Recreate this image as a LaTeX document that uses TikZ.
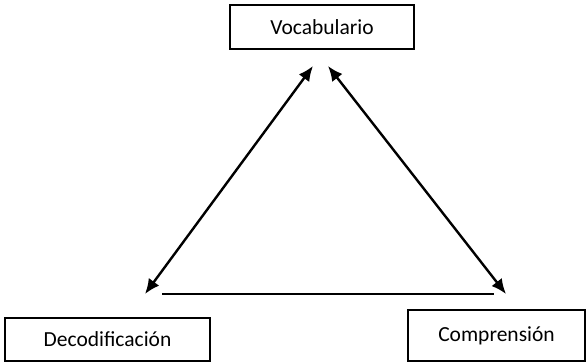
\documentclass[tikz,border=0pt]{standalone}
\usepackage{fontspec}
\setmainfont{Carlito}
\usepackage{tikz}
\usetikzlibrary{arrows.meta}
\def\largeur{586}
\def\hauteur{363}

\begin{document}
\begin{tikzpicture}[x=1pt, y=-1pt,
    boite/.style={draw, line width=1.5pt, inner sep=0pt, font=\fontsize{21.5}{25}\selectfont},
    fleche/.style={{Latex[length=15pt,width=13pt]}-{Latex[length=15pt,width=13pt]}, line width=2.4pt}]
\useasboundingbox (0,0) rectangle (\largeur,\hauteur);
%\draw[step=50, line width=0.1pt, black!30!white] (0,0) grid (\largeur,\hauteur);
    \node[boite, minimum width=184pt, minimum height=44pt] (voc) at (322,27) {Vocabulario};
    \node[boite, minimum width=205pt, minimum height=43pt] (deco) at (107.5,339.5) {Decodificación};
    \node[boite, minimum width=177pt, minimum height=51pt] (comp) at (496.5,335.5) {Comprensión};
    \coordinate (v1) at (313,66);
    \coordinate (v2) at (328,66);
    \coordinate (d1) at (145,294);
    \coordinate (c1) at (506,294);
    \coordinate (h1) at (162,294);
    \coordinate (h2) at (494,294);
    \draw[fleche] (v1) -- (d1);
    \draw[fleche] (v2) -- (c1);
    \draw[line width=1.6pt] (h1) -- (h2);
\end{tikzpicture}
\end{document}
